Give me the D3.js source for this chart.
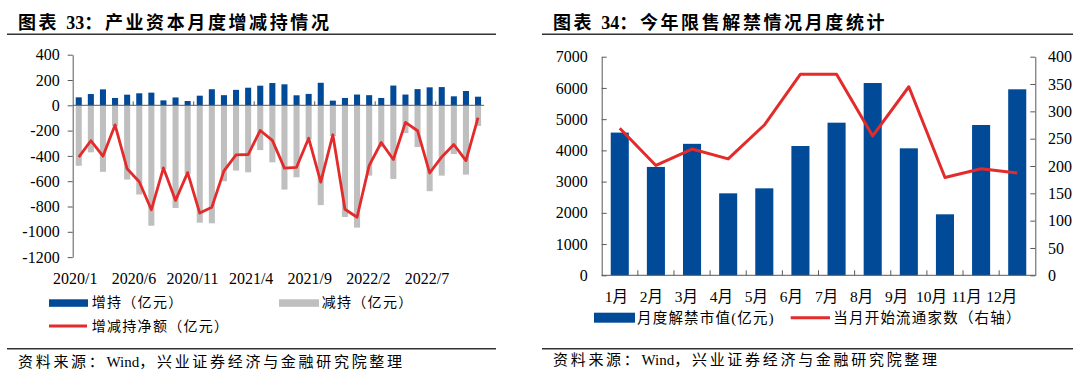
<!DOCTYPE html>
<html><head><meta charset="utf-8">
<script src="https://cdn.jsdelivr.net/npm/d3@7"></script>
<style>
body{margin:0;background:#fff}
svg{display:block}
text{font-family:"Liberation Serif","Noto Sans CJK SC",serif;fill:#000}
</style>
</head><body>
<svg id="c" width="1080" height="376"></svg>
<script>
// ---- Chart 33 data ----
const months = ["2020/1","2020/2","2020/3","2020/4","2020/5","2020/6","2020/7","2020/8","2020/9","2020/10","2020/11","2020/12",
"2021/1","2021/2","2021/3","2021/4","2021/5","2021/6","2021/7","2021/8","2021/9","2021/10","2021/11","2021/12",
"2022/1","2022/2","2022/3","2022/4","2022/5","2022/6","2022/7","2022/8","2022/9","2022/10"];
const increase = [63,89,126,58,84,95,100,39,62,34,76,127,80,122,139,155,176,166,79,90,178,37,58,85,80,58,156,85,128,142,144,71,113,68];
const decrease = [-478,-372,-526,-165,-587,-705,-952,-505,-812,-542,-928,-933,-600,-516,-530,-354,-451,-666,-569,-270,-789,-243,-883,-967,-556,-330,-582,-220,-330,-679,-556,-385,-548,-163];
const net = [-410,-280,-402,-155,-502,-604,-826,-495,-752,-532,-852,-805,-518,-392,-389,-199,-277,-497,-490,-260,-607,-233,-822,-885,-477,-294,-428,-135,-201,-535,-408,-310,-437,-97];
const leftXLabels = ["2020/1","2020/6","2020/11","2021/4","2021/9","2022/2","2022/7"];
const leftYTicks = [400,200,0,-200,-400,-600,-800,-1000,-1200];

// ---- Chart 34 data ----
const unlockMonths = ["1月","2月","3月","4月","5月","6月","7月","8月","9月","10月","11月","12月"];
const unlockValue = [4570,3470,4210,2625,2785,4140,4887,6157,4066,1953,4813,5956];
const unlockCount = [269,201,231,213,275,368,368,255,345,179,195,187];
const rightYLeftTicks = [0,1000,2000,3000,4000,5000,6000,7000];
const rightYRightTicks = [0,50,100,150,200,250,300,350,400];

const BLUE = "#004a97", GRAY = "#bfbfbf", RED = "#e32b2b", AXIS = "#595959";
const svg = d3.select("#c");
svg.append("rect").attr("width",1080).attr("height",376).attr("fill","#fff");

function spaced(sel, parts, sp){
  parts.forEach(p=>{
    sel.append("tspan").attr("letter-spacing", p[1] ? sp+"px" : "0px").text(p[0]);
  });
}
function header(x0, x1, tx, num, title){
  const t = svg.append("text").attr("x",tx).attr("y",23).attr("dominant-baseline","central")
    .attr("font-size",18).attr("font-weight","bold");
  spaced(t, [["图表 ",true],[num,false],["：",true],[title,true]], 2.6);
  svg.append("line").attr("x1",x0).attr("x2",x1).attr("y1",34.3).attr("y2",34.3).attr("stroke","#333").attr("stroke-width",1.6);
  svg.append("line").attr("x1",x0).attr("x2",x1).attr("y1",348.7).attr("y2",348.7).attr("stroke","#333").attr("stroke-width",1.6);
}
header(7,496,18,"33","产业资本月度增减持情况");
header(542,1073,553,"34","今年限售解禁情况月度统计");
function source(x,y){
  const t = svg.append("text").attr("x",x).attr("y",y).attr("dominant-baseline","central").attr("font-size",15);
  spaced(t, [["资料来源：",true],["Wind",false],["，兴业证券经济与金融研究院整理",true]], 2.7);
}
source(18,361.5);
source(553,360);

// ---- Left chart ----
const xL = d3.scaleBand().domain(months).range([72.7,484.1]).paddingInner(0.5).paddingOuter(0.25);
const yL = d3.scaleLinear().domain([-1200,400]).range([257.1,54.7]);
const gL = svg.append("g");
gL.selectAll("rect.dec").data(months).join("rect").attr("class","dec")
  .attr("x",d=>xL(d)).attr("width",xL.bandwidth())
  .attr("y",yL(0)).attr("height",(d,i)=>yL(decrease[i])-yL(0)).attr("fill",GRAY);
gL.selectAll("rect.inc").data(months).join("rect").attr("class","inc")
  .attr("x",d=>xL(d)).attr("width",xL.bandwidth())
  .attr("y",(d,i)=>yL(increase[i])).attr("height",(d,i)=>yL(0)-yL(increase[i])).attr("fill",BLUE);
const yAxL = gL.append("g").attr("transform","translate(72.7,0)")
  .call(d3.axisLeft(yL).tickValues(leftYTicks).tickSizeInner(5).tickSizeOuter(0).tickPadding(8).tickFormat(d=>String(d)));
yAxL.selectAll("text").attr("font-size",16).attr("font-family","Liberation Serif").attr("fill","#000");
yAxL.selectAll("line,path").attr("stroke",AXIS);
gL.append("line").attr("x1",72.7).attr("x2",484.1).attr("y1",yL(0)).attr("y2",yL(0)).attr("stroke",AXIS);
const gapL = (xL.step()-xL.bandwidth())/2;
gL.selectAll("line.ct").data([5,10,15,20,25,30]).join("line").attr("class","ct")
  .attr("x1",k=>xL(months[k])-gapL).attr("x2",k=>xL(months[k])-gapL)
  .attr("y1",yL(0)).attr("y2",yL(0)-4).attr("stroke",AXIS);
const lblL = d3.scalePoint().domain(leftXLabels).range([75.3,427]);
gL.selectAll("text.xl").data(leftXLabels).join("text").attr("class","xl")
  .attr("x",d=>lblL(d)).attr("y",278.3).attr("text-anchor","middle").attr("dominant-baseline","central")
  .attr("font-size",16).text(d=>d);
gL.append("path").datum(net)
  .attr("d",d3.line().x((d,i)=>xL(months[i])+xL.bandwidth()/2).y(d=>yL(d)))
  .attr("fill","none").attr("stroke",RED).attr("stroke-width",2.8).attr("stroke-linejoin","round");
// legend left
gL.append("rect").attr("x",49).attr("y",299.3).attr("width",39).attr("height",7.5).attr("fill",BLUE);
gL.append("text").attr("x",91.7).attr("y",302.6).attr("dominant-baseline","central").attr("font-size",14).attr("letter-spacing","1.3px").text("增持（亿元）");
gL.append("rect").attr("x",279).attr("y",299.3).attr("width",40).attr("height",7.5).attr("fill",GRAY);
gL.append("text").attr("x",321.7).attr("y",302.6).attr("dominant-baseline","central").attr("font-size",14).attr("letter-spacing","1.3px").text("减持（亿元）");
gL.append("line").attr("x1",49).attr("x2",87).attr("y1",326).attr("y2",326).attr("stroke",RED).attr("stroke-width",3);
gL.append("text").attr("x",91.7).attr("y",326).attr("dominant-baseline","central").attr("font-size",14).attr("letter-spacing","1.3px").text("增减持净额（亿元）");

// ---- Right chart ----
const xR = d3.scaleBand().domain(unlockMonths).range([601.7,1035.3]).paddingInner(0.5).paddingOuter(0.25);
const yR1 = d3.scaleLinear().domain([0,7000]).range([275.3,56.7]);
const yR2 = d3.scaleLinear().domain([0,400]).range([275.3,56.7]);
const gR = svg.append("g");
gR.selectAll("rect.v").data(unlockMonths).join("rect").attr("class","v")
  .attr("x",d=>xR(d)).attr("width",xR.bandwidth())
  .attr("y",(d,i)=>yR1(unlockValue[i])).attr("height",(d,i)=>yR1(0)-yR1(unlockValue[i])).attr("fill",BLUE);
const axR1 = gR.append("g").attr("transform","translate(601.7,0)")
  .call(d3.axisLeft(yR1).tickValues(rightYLeftTicks).tickSizeInner(-5).tickSizeOuter(0).tickPadding(14).tickFormat(d=>String(d)));
const axR2 = gR.append("g").attr("transform","translate(1035.3,0)")
  .call(d3.axisRight(yR2).tickValues(rightYRightTicks).tickSizeInner(-5).tickSizeOuter(0).tickPadding(12.7).tickFormat(d=>String(d)));
[axR1,axR2].forEach(a=>{a.selectAll("text").attr("font-size",16).attr("font-family","Liberation Serif").attr("fill","#000");a.selectAll("line,path").attr("stroke",AXIS);});
gR.append("line").attr("x1",601.7).attr("x2",1035.3).attr("y1",yR1(0)).attr("y2",yR1(0)).attr("stroke",AXIS);
const gapR = (xR.step()-xR.bandwidth())/2;
gR.selectAll("line.ct").data(d3.range(1,12)).join("line").attr("class","ct")
  .attr("x1",k=>xR(unlockMonths[k])-gapR).attr("x2",k=>xR(unlockMonths[k])-gapR)
  .attr("y1",yR1(0)).attr("y2",yR1(0)-5).attr("stroke",AXIS);
const lblR = d3.scalePoint().domain(unlockMonths).range([616.3,1001.7]);
gR.selectAll("text.xl").data(unlockMonths).join("text").attr("class","xl")
  .attr("x",d=>lblR(d)).attr("y",296).attr("text-anchor","middle").attr("dominant-baseline","central")
  .attr("font-size",15.5).text(d=>d);
gR.append("path").datum(unlockCount)
  .attr("d",d3.line().x((d,i)=>xR(unlockMonths[i])+xR.bandwidth()/2).y(d=>yR2(d)))
  .attr("fill","none").attr("stroke",RED).attr("stroke-width",3).attr("stroke-linejoin","round");
gR.append("rect").attr("x",594).attr("y",312.7).attr("width",41).attr("height",10).attr("fill",BLUE);
gR.append("text").attr("x",637).attr("y",317.7).attr("dominant-baseline","central").attr("font-size",14.5).attr("letter-spacing","1.2px").text("月度解禁市值(亿元)");
gR.append("line").attr("x1",790.7).attr("x2",830).attr("y1",317.7).attr("y2",317.7).attr("stroke",RED).attr("stroke-width",3);
gR.append("text").attr("x",833.3).attr("y",317.7).attr("dominant-baseline","central").attr("font-size",14.5).attr("letter-spacing","1.2px").text("当月开始流通家数（右轴）");
</script>
</body></html>
